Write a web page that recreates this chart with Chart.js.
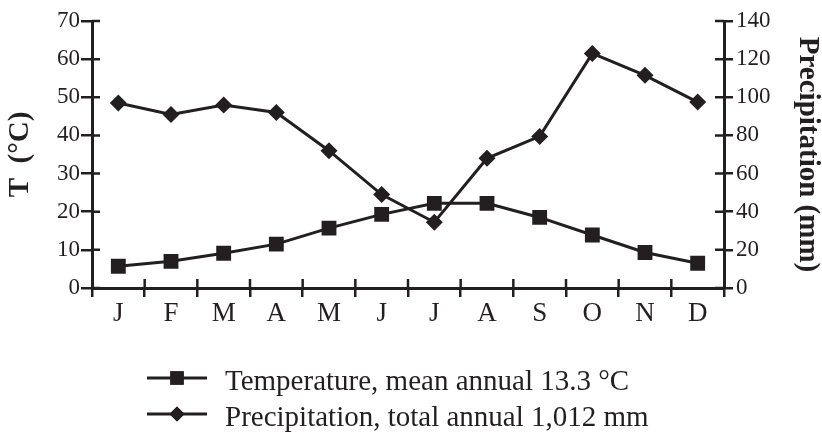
<!DOCTYPE html>
<html>
<head>
    <title>Temperature and Precipitation</title>
    <script src="https://cdn.jsdelivr.net/npm/chart.js"></script>
    <style>
        body { margin: 0; background: #fff; }
        #wrap { width: 822px; height: 439px; }
    </style>
</head>
<body>
<div id="wrap"><canvas id="climateChart" width="822" height="439"></canvas></div>
<script>
    // values
    const months = ["J", "F", "M", "A", "M", "J", "J", "A", "S", "O", "N", "D"];
    const temperature = [5.7, 7.0, 9.1, 11.5, 15.7, 19.3, 22.2, 22.2, 18.5, 13.9, 9.3, 6.5];
    const precipitation = [97, 91, 96, 92, 72, 49, 34.5, 68, 79.5, 123, 111.5, 97.5];
    const tempTicks = [0, 10, 20, 30, 40, 50, 60, 70];
    const precipTicks = [0, 20, 40, 60, 80, 100, 120, 140];
    const legendLabels = ["Temperature, mean annual 13.3 \u00B0C", "Precipitation, total annual 1,012 mm"];

    const ink = "#231f20";
    const serif = "'Liberation Serif', 'Times New Roman', serif";

    // ticks that cross the axis line (Chart.js only draws the outer half)
    const innerTicks = {
        id: "innerTicks",
        afterDatasetsDraw(chart) {
            const ctx = chart.ctx;
            const a = chart.chartArea;
            const x = chart.scales.x, yl = chart.scales.y, yr = chart.scales.y2;
            ctx.save();
            ctx.strokeStyle = ink;
            ctx.lineWidth = 2.5;
            ctx.beginPath();
            yl.ticks.forEach(t => { const p = yl.getPixelForValue(t.value); ctx.moveTo(a.left, p); ctx.lineTo(a.left + 8, p); });
            yr.ticks.forEach(t => { const p = yr.getPixelForValue(t.value); ctx.moveTo(a.right, p); ctx.lineTo(a.right - 9, p); });
            for (let i = 1; i < months.length; i++) {
                const p = (x.getPixelForValue(i - 1) + x.getPixelForValue(i)) / 2;
                ctx.moveTo(p, a.bottom); ctx.lineTo(p, a.bottom - 9);
            }
            ctx.stroke();
            ctx.restore();
        }
    };

    // legend below the plot: line with marker, then label
    const lineLegend = {
        id: "lineLegend",
        afterDraw(chart) {
            const ctx = chart.ctx;
            ctx.save();
            chart.data.datasets.forEach((ds, i) => {
                const y = 378 + i * 36;
                ctx.strokeStyle = ink;
                ctx.lineWidth = 3;
                ctx.beginPath(); ctx.moveTo(147, y); ctx.lineTo(207, y); ctx.stroke();
                ctx.fillStyle = ink;
                Chart.helpers.drawPoint(ctx, { pointStyle: ds.pointStyle, radius: ds.pointRadius - 1, borderWidth: 0 }, 177, y);
                ctx.fill();
                ctx.font = "29px " + serif;
                ctx.textBaseline = "alphabetic";
                ctx.fillText(legendLabels[i], 225, y + 12);
            });
            ctx.restore();
        }
    };

    new Chart(document.getElementById("climateChart"), {
        type: "line",
        data: {
            labels: months,
            datasets: [{
                label: legendLabels[0],
                data: temperature,
                yAxisID: "y",
                borderColor: ink,
                backgroundColor: ink,
                borderWidth: 3,
                pointStyle: "rect",
                pointRadius: 10.5,
                pointBorderWidth: 0,
                tension: 0
            }, {
                label: legendLabels[1],
                data: precipitation,
                yAxisID: "y2",
                borderColor: ink,
                backgroundColor: ink,
                borderWidth: 3,
                pointStyle: "rectRot",
                pointRadius: 8.5,
                pointBorderWidth: 0,
                tension: 0
            }]
        },
        options: {
            responsive: false,
            animation: false,
            layout: { padding: { top: 21, bottom: 111, left: 0, right: 0 } },
            plugins: { legend: { display: false }, tooltip: { enabled: false } },
            scales: {
                x: {
                    offset: true,
                    grid: { offset: true, drawOnChartArea: false, color: ink, lineWidth: 2.5, tickLength: 9 },
                    border: { color: ink, width: 3 },
                    ticks: { color: ink, font: { family: serif, size: 27 }, padding: 1, maxRotation: 0 },
                    afterFit(s) { s.height = 40; }
                },
                y: {
                    position: "left",
                    min: 0, max: 70,
                    afterBuildTicks(s) { s.ticks = tempTicks.map(v => ({ value: v })); },
                    grid: { drawOnChartArea: false, color: ink, lineWidth: 2.5, tickLength: 11 },
                    border: { color: ink, width: 3 },
                    ticks: { color: ink, font: { family: serif, size: 23 }, padding: 1 },
                    title: { display: true, text: "T  (\u00B0C)", color: ink, font: { family: serif, size: 29, weight: "bold", lineHeight: 1 }, padding: { top: 6, bottom: 0 } },
                    afterFit(s) { s.width = 92; }
                },
                y2: {
                    position: "right",
                    min: 0, max: 140,
                    afterBuildTicks(s) { s.ticks = precipTicks.map(v => ({ value: v })); },
                    grid: { drawOnChartArea: false, color: ink, lineWidth: 2.5, tickLength: 9 },
                    border: { color: ink, width: 3 },
                    ticks: { color: ink, font: { family: serif, size: 23 }, padding: 3 },
                    title: { display: true, text: "Precipitation (mm)", color: ink, font: { family: serif, size: 29, weight: "bold", lineHeight: 1 }, padding: { top: 0, bottom: 0 } },
                    afterFit(s) { s.width = 98; }
                }
            }
        },
        plugins: [innerTicks, lineLegend]
    });
</script>
</body>
</html>
